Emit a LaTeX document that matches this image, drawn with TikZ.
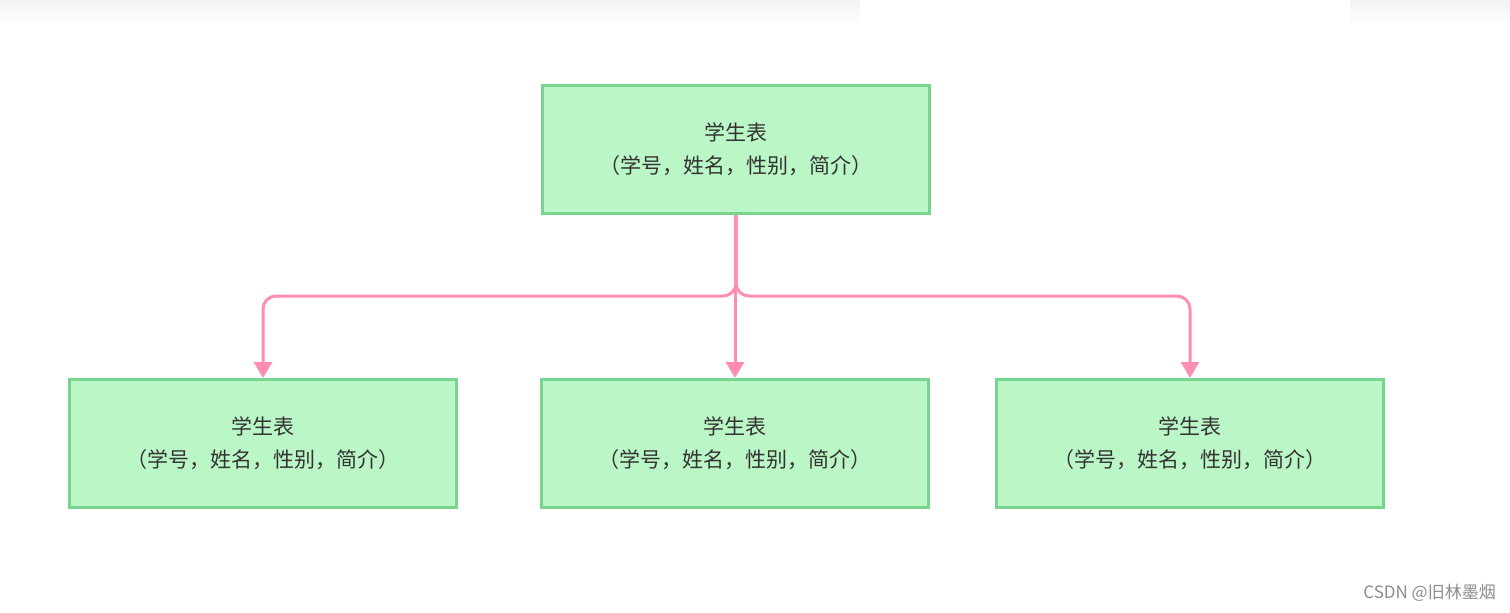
\documentclass[tikz,border=0pt]{standalone}
\usepackage{fontspec}
\setmainfont{Noto Sans CJK SC}
\newfontfamily\wmfont{Noto Sans CJK SC}
\usetikzlibrary{arrows.meta}
\definecolor{boxfill}{HTML}{BBF7C6}
\definecolor{boxline}{HTML}{78D48E}
\definecolor{linkc}{HTML}{FF8DB1}
\definecolor{txt}{HTML}{333333}
\tikzset{
  tbl/.style={draw=boxline, fill=boxfill, line width=3pt, minimum width=387pt, minimum height=128pt,
    inner sep=0pt, align=center, text=txt, font=\fontsize{21pt}{33pt}\selectfont},
  link/.style={draw=linkc, line width=3pt, rounded corners=13pt, -{Triangle[width=18pt,length=16pt]}}
}
\begin{document}
\begin{tikzpicture}[x=1pt,y=-1pt]
\useasboundingbox (0,0) rectangle (1510,613);
\shade[top color=black!5, bottom color=white] (0,0) rectangle (860,24);
\shade[top color=black!5, bottom color=white] (1350,0) rectangle (1510,24);
\node[tbl] (top) at (736,149.5) {学生表\\（学号，姓名，性别，简介）};
\node[tbl] (l) at (263,443.5) {学生表\\（学号，姓名，性别，简介）};
\node[tbl] (m) at (735,443.5) {学生表\\（学号，姓名，性别，简介）};
\node[tbl] (r) at (1190,443.5) {学生表\\（学号，姓名，性别，简介）};
\coordinate (j) at (736,296);
\draw[link] (top.south) -- (j) -| (l.north);
\draw[link] (top.south) -- (j) -| (r.north);
\draw[link] (top.south -| m.north) -- (m.north);
\node[anchor=east, text=black!45, font=\wmfont\fontsize{17pt}{20pt}\selectfont, inner sep=0pt] (wm) at (1496,593) {CSDN @旧林墨烟};
\end{tikzpicture}
\end{document}
